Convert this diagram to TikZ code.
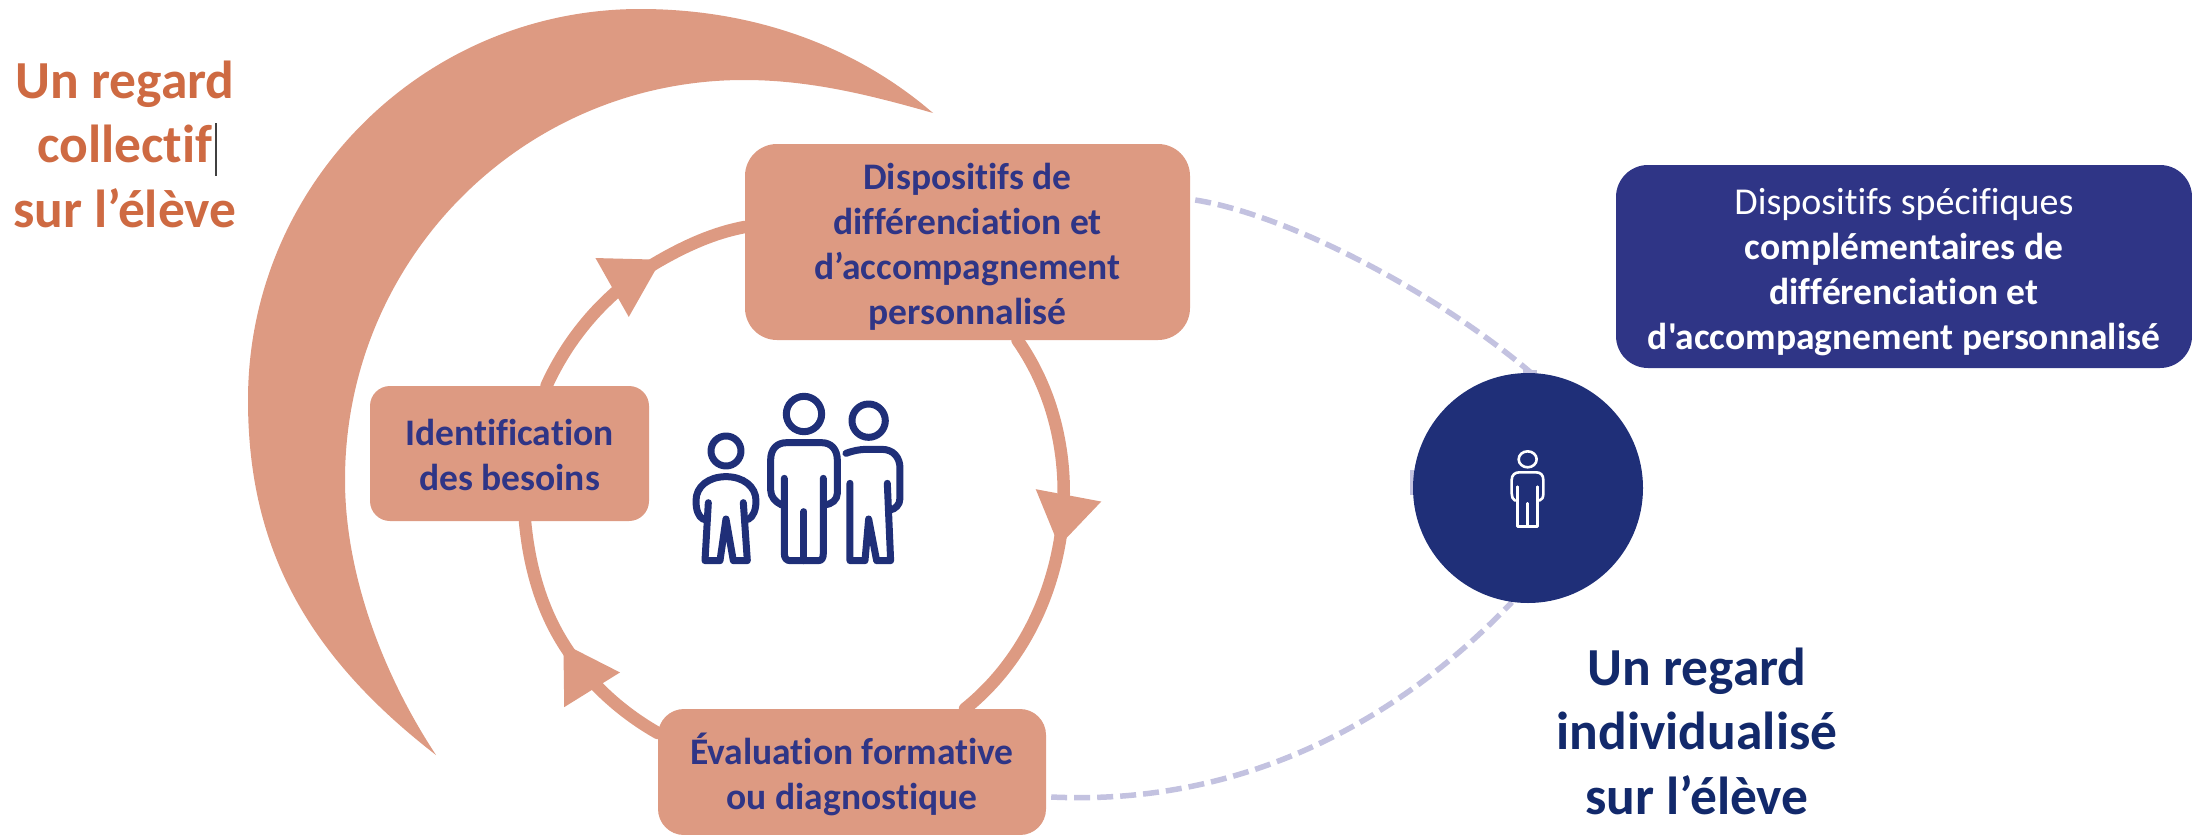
\documentclass[tikz,border=0pt]{standalone}
\usepackage{fontspec}
\setmainfont[Ligatures={TeXOff,NoCommon}]{Carlito}
\usetikzlibrary{arrows.meta,decorations.markings}
\definecolor{salmon}{HTML}{DD9A82}
\definecolor{rust}{HTML}{CE6A42}
\definecolor{indigo}{HTML}{2F3586}
\definecolor{navy}{HTML}{1F2F78}
\definecolor{deepnavy}{HTML}{12296B}
\definecolor{lav}{HTML}{C3C2E0}
\tikzset{
  salmonbox/.style={fill=salmon,text=indigo,inner sep=0pt,align=center,
    font=\fontsize{37.5}{45}\selectfont\bfseries},
  navybox/.style={fill=indigo,text=white,inner sep=0pt,align=center,rounded corners=32pt,
    font=\fontsize{37.5}{45}\selectfont\bfseries},
  headtext/.style={inner sep=0pt,align=center,font=\fontsize{53.5}{64.5}\selectfont\bfseries},
  ringline/.style={draw=salmon,line width=12.5pt,line cap=round,postaction={decorate}},
  dashline/.style={draw=lav,line width=5.5pt,dash pattern=on 16pt off 7pt},
  icon/.style={draw=navy,line width=7pt,line cap=round,line join=round},
  smallicon/.style={draw=white,line width=2.6pt,line cap=round,line join=round}
}
\begin{document}
\begin{tikzpicture}[x=1pt,y=-1pt]
\useasboundingbox (0,0) rectangle (2192,835);
% crescent
\fill[salmon] (933,113) .. controls (860,50) and (760,9) .. (640,9)
  .. controls (424,9) and (248,184) .. (248,400)
  .. controls (248,540) and (300,650) .. (436,755)
  .. controls (380,670) and (345,570) .. (345,480)
  .. controls (345,259) and (523,80) .. (744,80)
  .. controls (810,80) and (870,95) .. (933,113) -- cycle;
\coordinate (t1) at (659,261);
\coordinate (t2) at (1060,540);
\coordinate (t3) at (563,643);
\path (509.5,453.5) node[minimum width=279pt,minimum height=135pt,inner sep=0pt] (idb) {};
\path (967.5,242) node[minimum width=445pt,minimum height=196pt,inner sep=0pt] (disp) {};
\path (852,772) node[minimum width=388pt,minimum height=126pt,inner sep=0pt] (evalb) {};
\path (1528,488) node[circle,minimum size=230pt,inner sep=0pt] (dot) {};
\path (1904,266.5) node[minimum width=576pt,minimum height=203pt,inner sep=0pt] (spec) {};
% dashed links
\draw[dashline] ([xshift=5pt,yshift=42pt]disp.east) .. controls (1290,215) and (1440,295) .. ([xshift=3pt]dot.north);
\draw[dashline] ([xshift=5pt,yshift=-25pt]evalb.east) .. controls (1220,805) and (1380,740) .. (dot.262);
\draw[lav,line width=5pt] (1412,470) -- (1412,495);
\draw[lav,line width=5pt] (1523,372) -- (1537,372);
% ring
\draw[ringline,decoration={markings,mark=at position 0.66 with {\arrow[salmon]{Triangle[length=57pt,width=64pt]}}}]
  ([xshift=37pt]idb.north) .. controls (570,334) and (609,290) .. (t1)
  .. controls (686,245.5) and (714.5,232.6) .. ([yshift=15pt]disp.west);
\draw[ringline,decoration={markings,mark=at position 0.53 with {\arrow[salmon]{Triangle[length=52pt,width=63pt]}}}]
  ([xshift=50pt]disp.south) .. controls (1058,398) and (1071,470) .. (t2)
  .. controls (1049,606) and (1017,667) .. ([xshift=113pt]evalb.north);
\draw[ringline,decoration={markings,mark=at position 0.506 with {\arrow[salmon]{Triangle[length=55pt,width=62pt]}}}]
  ([yshift=39pt]evalb.west) .. controls (619,711) and (586,680) .. (t3)
  .. controls (540,606) and (529,564) .. ([xshift=15.5pt]idb.south);
% boxes
\node[salmonbox,rounded corners=20pt,minimum width=279pt,minimum height=135pt] at (idb) {\rule{0pt}{30pt}Identification\\des besoins};
\node[salmonbox,rounded corners=32pt,minimum width=445pt,minimum height=196pt] at (disp) {\rule{0pt}{35pt}Dispositifs de\\différenciation et\\d’accompagnement\\personnalisé};
\node[salmonbox,rounded corners=26pt,minimum width=388pt,minimum height=126pt] at (evalb) {\rule{0pt}{37pt}Évaluation formative\\ou diagnostique};
\node[navybox,minimum width=576pt,minimum height=203pt] at (spec) {\rule{0pt}{38pt}{\mdseries\fontsize{38}{45}\selectfont Dispositifs spécifiques}\\complémentaires de\\différenciation et\\d'accompagnement personnalisé};
\node[circle,fill=navy,minimum size=230pt,inner sep=0pt] at (dot) {};
% headings
\node[headtext,text=rust] (h1) at (125,144) {Un regard\\collectif\\sur l’élève};
\node[headtext,text=deepnavy] (h2) at (1697,731) {Un regard\\individualisé\\sur l’élève};
\draw[black!75,line width=2pt] (216,123) -- (216,176);
% people icon
\begin{scope}[shift={(640,370)},x=0.3333pt,y=-0.3333pt]
\draw[icon] (258,243) circle[radius=45];
\draw[icon] (190,448) .. controls (175,440) and (168,420) .. (168,392) .. controls (168,350) and (205,320) .. (258,320) .. controls (310,320) and (348,350) .. (348,392) .. controls (348,420) and (340,440) .. (325,448);
\draw[icon] (205,398) -- (195,572) -- (240,572) -- (258,447) -- (280,572) -- (322,572) -- (310,398);
\draw[icon] (492,132) circle[radius=53];
\draw[icon] (425,405) .. controls (405,395) and (392,380) .. (392,360) -- (392,270) .. controls (392,238) and (410,218) .. (440,218) -- (545,218) .. controls (575,218) and (592,240) .. (592,270) -- (592,370) .. controls (592,390) and (575,402) .. (555,405);
\draw[icon] (433,325) -- (433,550) .. controls (433,565) and (440,572) .. (450,572) -- (535,572) .. controls (545,572) and (550,565) .. (550,550) -- (550,325);
\draw[icon] (492,425) -- (492,572);
\draw[icon] (686,152) circle[radius=50];
\draw[icon] (618,250) .. controls (640,242) and (660,238) .. (680,238) -- (725,238) .. controls (760,238) and (780,262) .. (780,295) -- (780,385) .. controls (780,405) and (765,418) .. (750,420);
\draw[icon] (630,340) -- (630,572) -- (675,572) -- (686,447) -- (710,572) -- (752,572) -- (742,340);
\end{scope}
% single person icon
\begin{scope}[shift={(1400,340)},x=0.3333pt,y=-0.3333pt]
\draw[smallicon] (383,358) ellipse[x radius=27,y radius=24];
\draw[smallicon] (345,482) .. controls (338,478) and (335,470) .. (335,460) -- (335,420) .. controls (335,405) and (345,397) .. (358,397) -- (408,397) .. controls (422,397) and (430,405) .. (430,420) -- (430,462) .. controls (430,472) and (426,480) .. (418,482);
\draw[smallicon] (352,440) -- (352,560) -- (412,560) -- (412,440);
\draw[smallicon] (382,490) -- (382,560);
\end{scope}
\end{tikzpicture}
\end{document}
